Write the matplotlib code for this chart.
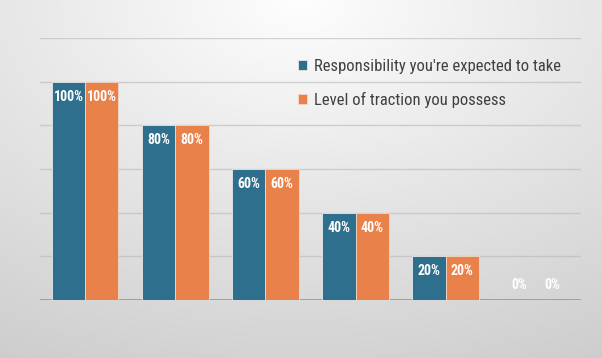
import numpy as np
import matplotlib.pyplot as plt

# data
categories = ["A", "B", "C", "D", "E", "F"]
responsibility = [1.0, 0.8, 0.6, 0.4, 0.2, 0.0]
traction = [1.0, 0.8, 0.6, 0.4, 0.2, 0.0]
series_names = ["Responsibility you're expected to take", "Level of traction you possess"]

blue = "#2f6f8e"
orange = "#e9814a"

plt.rcParams['font.family'] = ['Roboto Condensed', 'DejaVu Sans']

fig = plt.figure(figsize=(6.02, 3.58), dpi=100)

# background gradient (light at top centre, grey at bottom/edges)
bg = fig.add_axes([0, 0, 1, 1], zorder=-1)
yy, xx = np.mgrid[0:1:358j, 0:1:602j]
r = np.sqrt(((xx - 0.5) * 1.1) ** 2 + (yy * 1.0) ** 2)
shade = 0.995 - 0.20 * np.clip(r, 0, 1.2) / 1.2
bg.imshow(np.dstack([shade] * 3), aspect="auto", extent=[0, 1, 0, 1], origin="upper")
bg.axis("off")

ax = fig.add_axes([40 / 602, 58 / 358, 541 / 602, 262 / 358])
ax.set_facecolor("none")

x = np.arange(len(categories))
w = 0.37
b1 = ax.bar(x - w / 2, responsibility, w, color=blue, edgecolor="#e8e8e8", linewidth=0.6, zorder=3)
b2 = ax.bar(x + w / 2, traction, w, color=orange, edgecolor="#f0d8c8", linewidth=0.6, zorder=3)

for bars in (b1, b2):
    for rect in bars:
        v = rect.get_height()
        off = -15 if v > 0 else 15
        ax.annotate(f"{v:.0%}", (rect.get_x() + rect.get_width() / 2, v),
                    xytext=(0, off), textcoords="offset pixels",
                    ha="center", va="center", color="white",
                    fontsize=10, fontweight="bold", zorder=4)

ax.set_xlim(-0.5, len(categories) - 0.5)
ax.set_ylim(0, 1.2)
ax.set_yticks(np.arange(0.2, 1.21, 0.2))
ax.grid(axis="y", color="#b8b8b8", alpha=0.6, linewidth=1, zorder=1)
ax.axhline(0, color="#9a9a9a", linewidth=2, zorder=2)
for s in ax.spines.values():
    s.set_visible(False)
ax.tick_params(left=False, bottom=False, labelleft=False, labelbottom=False)

fig.legend([b1, b2], series_names, loc="upper left",
           bbox_to_anchor=(283 / 602, 1 - 44 / 358), frameon=False,
           fontsize=12, labelcolor="#404040", handlelength=0.55, handleheight=0.55,
           handletextpad=0.4, labelspacing=1.05)

fig.savefig("out.png", dpi=100)
